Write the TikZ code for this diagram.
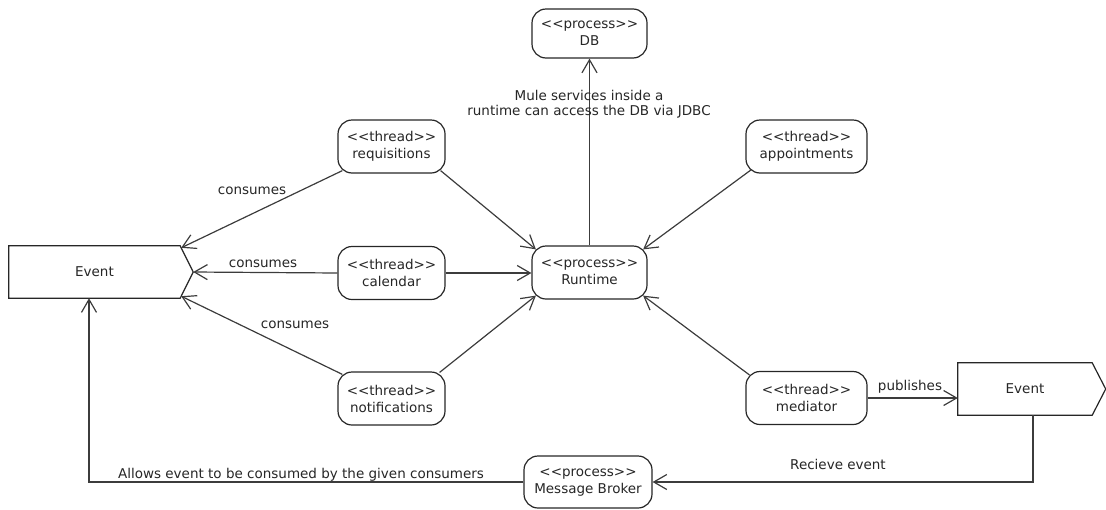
\documentclass[tikz,border=0pt]{standalone}
\usepackage{fontspec}
\setmainfont{DejaVu Sans}
\usetikzlibrary{arrows.meta,calc}
\definecolor{ln}{HTML}{3C3C3C}
\definecolor{bx}{HTML}{262626}
\begin{document}
\begin{tikzpicture}[x=1pt,y=-1pt,
  every node/.style={font=\fontsize{13.5}{17}\selectfont, text=bx},
  box/.style={draw=bx, line width=1.2pt, rounded corners=14pt, align=center, inner sep=0pt, minimum height=53pt},
  evbox/.style={draw=none, inner sep=0pt, minimum height=52pt},
  conn/.style={draw=ln, line width=1.2pt, -{Straight Barb[length=13pt,width=15pt,line width=1.2pt]}},
  plain/.style={draw=ln, line width=1.2pt},
  lbl/.style={anchor=base, inner sep=0pt}]
\useasboundingbox (0,0) rectangle (1106,509);

% process nodes
\node[box, minimum width=115pt, minimum height=49pt] (db) at (589.5,33.5) {<{}<process>{}>\\DB};
\node[box, minimum width=115pt] (rt) at (589.5,272.5) {<{}<process>{}>\\Runtime};
\node[box, minimum width=128pt, minimum height=52pt] (mb) at (588,482) {<{}<process>{}>\\Message Broker};

% thread nodes
\node[box, minimum width=107pt] (req) at (391.5,146.5) {<{}<thread>{}>\\requisitions};
\node[box, minimum width=107pt] (cal) at (391.5,273) {<{}<thread>{}>\\calendar};
\node[box, minimum width=107pt] (notif) at (391.5,398.5) {<{}<thread>{}>\\notifications};
\node[box, minimum width=121pt] (appt) at (806.5,146.5) {<{}<thread>{}>\\appointments};
\node[box, minimum width=121pt] (med) at (806.5,398) {<{}<thread>{}>\\mediator};

% event shapes
\node[evbox, minimum width=171pt] (evL) at (94.5,272) {Event};
\coordinate (evLtip) at ($(evL.east)+(13,0)$);
\draw[draw=bx, line width=1.2pt, line join=miter]
  (evL.north west) -- (evL.north east) -- (evLtip) -- (evL.south east) -- (evL.south west) -- cycle;

\node[evbox, minimum width=134pt] (evR) at (1025,389) {Event};
\coordinate (evRtip) at ($(evR.east)+(13.5,0)$);
\draw[draw=bx, line width=1.2pt, line join=miter]
  (evR.north west) -- (evR.north east) -- (evRtip) -- (evR.south east) -- (evR.south west) -- cycle;

% connectors into Runtime
\draw[conn] ($(req.south east)+(-5,-3)$) -- ($(rt.north west)+(4.5,4)$);
\draw[conn] (cal.east) -- (rt.west |- cal.east);
\draw[conn] ($(notif.north east)+(-6,1)$) -- ($(rt.south west)+(4.5,-4)$);
\draw[conn] ($(appt.south west)+(6,-4)$) -- ($(rt.north east)+(-4.5,4)$);
\draw[conn] ($(med.north west)+(4,4)$) -- ($(rt.south east)+(-4.5,-4)$);
\draw[conn] (rt.north) -- (db.south);
\node[align=center, inner sep=0pt, font=\fontsize{13.5}{15.5}\selectfont] (mule) at (589,104)
  {Mule services inside a\\runtime can access the DB via JDBC};

% consumes
\draw[conn] ($(req.south west)+(5,-3)$) -- ($(evL.north east)+(1,2)$);
\draw[conn] (cal.west) -- (evLtip);
\draw[conn] ($(notif.north west)+(5,3)$) -- ($(evL.south east)+(1,-2)$);
\node[lbl] (c1) at (252,194) {consumes};
\node[lbl] (c2) at (263,267) {consumes};
\node[lbl] (c3) at (295,328) {consumes};

% publishes
\draw[conn] (med.east) -- (med.east -| evR.west);
\node[lbl] (pub) at (910,390) {publishes};

% broker loop
\coordinate (evRb) at ($(evR.south)+(8,0)$);
\draw[conn] (evRb) |- (mb.east);
\node[lbl] (rcv) at (838,469) {Recieve event};
\coordinate (evLb) at ($(evL.south)+(-5.5,0)$);
\draw[conn] (mb.west) -| (evLb);
\node[lbl] (allow) at (301,478) {Allows event to be consumed by the given consumers};
\end{tikzpicture}
\end{document}
